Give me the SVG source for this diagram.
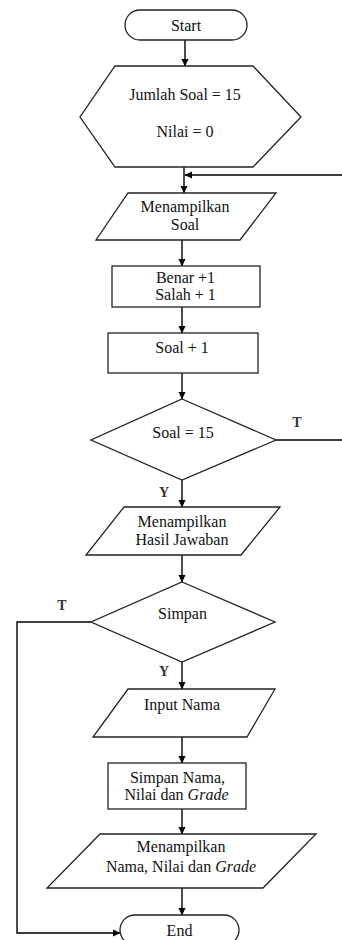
<svg xmlns="http://www.w3.org/2000/svg" width="342" height="940" viewBox="0 0 342 940">
<defs>
<marker id="ah" markerWidth="8" markerHeight="8" refX="7" refY="4" orient="auto" markerUnits="userSpaceOnUse">
<path d="M0,0.5 L7.5,4 L0,7.5 Z" fill="#000"/>
</marker>
<style>
.s{fill:#fff;stroke:#222;stroke-width:1.3}
.t{font-family:"Liberation Serif","Times New Roman","DejaVu Serif",serif;font-size:16px;fill:#111;text-anchor:middle}
.l{font-family:"Liberation Serif","Times New Roman","DejaVu Serif",serif;font-size:14px;font-weight:bold;fill:#333;text-anchor:middle}
.c{fill:none;stroke:#000;stroke-width:1.4}
</style>
</defs>
<rect width="342" height="940" fill="#fff"/>
<g id="connectors">
<line class="c" x1="185" y1="40" x2="185" y2="66" marker-end="url(#ah)"/>
<line class="c" x1="184" y1="167" x2="184" y2="193" marker-end="url(#ah)"/>
<line class="c" x1="342" y1="175" x2="185" y2="175" marker-end="url(#ah)"/>
<line class="c" x1="182" y1="240" x2="182" y2="266" marker-end="url(#ah)"/>
<line class="c" x1="182" y1="307" x2="182" y2="333" marker-end="url(#ah)"/>
<line class="c" x1="182" y1="373" x2="182" y2="399" marker-end="url(#ah)"/>
<line class="c" x1="276" y1="440" x2="342" y2="440"/>
<line class="c" x1="182" y1="480" x2="182" y2="507" marker-end="url(#ah)"/>
<line class="c" x1="182" y1="555" x2="182" y2="582" marker-end="url(#ah)"/>
<polyline class="c" points="91,622 17,622 17,933 120,933" marker-end="url(#ah)"/>
<line class="c" x1="182" y1="662" x2="182" y2="689" marker-end="url(#ah)"/>
<line class="c" x1="182" y1="737" x2="182" y2="763" marker-end="url(#ah)"/>
<line class="c" x1="182" y1="809" x2="182" y2="834" marker-end="url(#ah)"/>
<line class="c" x1="182" y1="888" x2="182" y2="915" marker-end="url(#ah)"/>
<text class="l" x="297" y="427">T</text>
<text class="l" x="164" y="497">Y</text>
<text class="l" x="62" y="610">T</text>
<text class="l" x="164" y="676">Y</text>
</g>
<g id="start">
<rect class="s" x="125" y="10" width="122" height="30" rx="15"/>
<text class="t" x="186" y="30.5">Start</text>
</g>
<g id="init">
<polygon class="s" points="115,66 253,66 301,117 253,167 115,167 80,117"/>
<text class="t" x="185" y="100">Jumlah Soal = 15</text>
<text class="t" x="185" y="137">Nilai = 0</text>
</g>
<g id="tampil-soal">
<polygon class="s" points="128,193 276,193 240,240 96,240"/>
<text class="t" x="185" y="212">Menampilkan</text>
<text class="t" x="185" y="230">Soal</text>
</g>
<g id="benar-salah">
<rect class="s" x="112" y="266" width="148" height="41"/>
<text class="t" x="185.5" y="283" font-size="15">Benar +1</text>
<text class="t" x="185.5" y="299.5" font-size="15">Salah + 1</text>
</g>
<g id="soal-plus">
<rect class="s" x="108" y="333" width="150" height="40"/>
<text class="t" x="182" y="353">Soal + 1</text>
</g>
<g id="cek-soal">
<polygon class="s" points="182,399 276,440 182,480 91,440"/>
<text class="t" x="183" y="438">Soal = 15</text>
</g>
<g id="tampil-hasil">
<polygon class="s" points="124,507 280,507 241,555 86,555"/>
<text class="t" x="182" y="527">Menampilkan</text>
<text class="t" x="182" y="545">Hasil Jawaban</text>
</g>
<g id="simpan">
<polygon class="s" points="182,582 275,622 182,662 91,622"/>
<text class="t" x="182.5" y="619">Simpan</text>
</g>
<g id="input-nama">
<polygon class="s" points="128,689 275,689 247,737 93,737"/>
<text class="t" x="182" y="710">Input Nama</text>
</g>
<g id="simpan-nama">
<rect class="s" x="108" y="763" width="138" height="46"/>
<text class="t" x="177.5" y="783">Simpan Nama,</text>
<text class="t" x="176.5" y="800">Nilai dan <tspan font-style="italic">Grade</tspan></text>
</g>
<g id="tampil-nama">
<polygon class="s" points="100,834 316,834 263,888 47,888"/>
<text class="t" x="181" y="852">Menampilkan</text>
<text class="t" x="181" y="872">Nama, Nilai dan <tspan font-style="italic">Grade</tspan></text>
</g>
<g id="end">
<rect class="s" x="120" y="915" width="119" height="30" rx="15"/>
<text class="t" x="179.5" y="936">End</text>
</g>
</svg>
